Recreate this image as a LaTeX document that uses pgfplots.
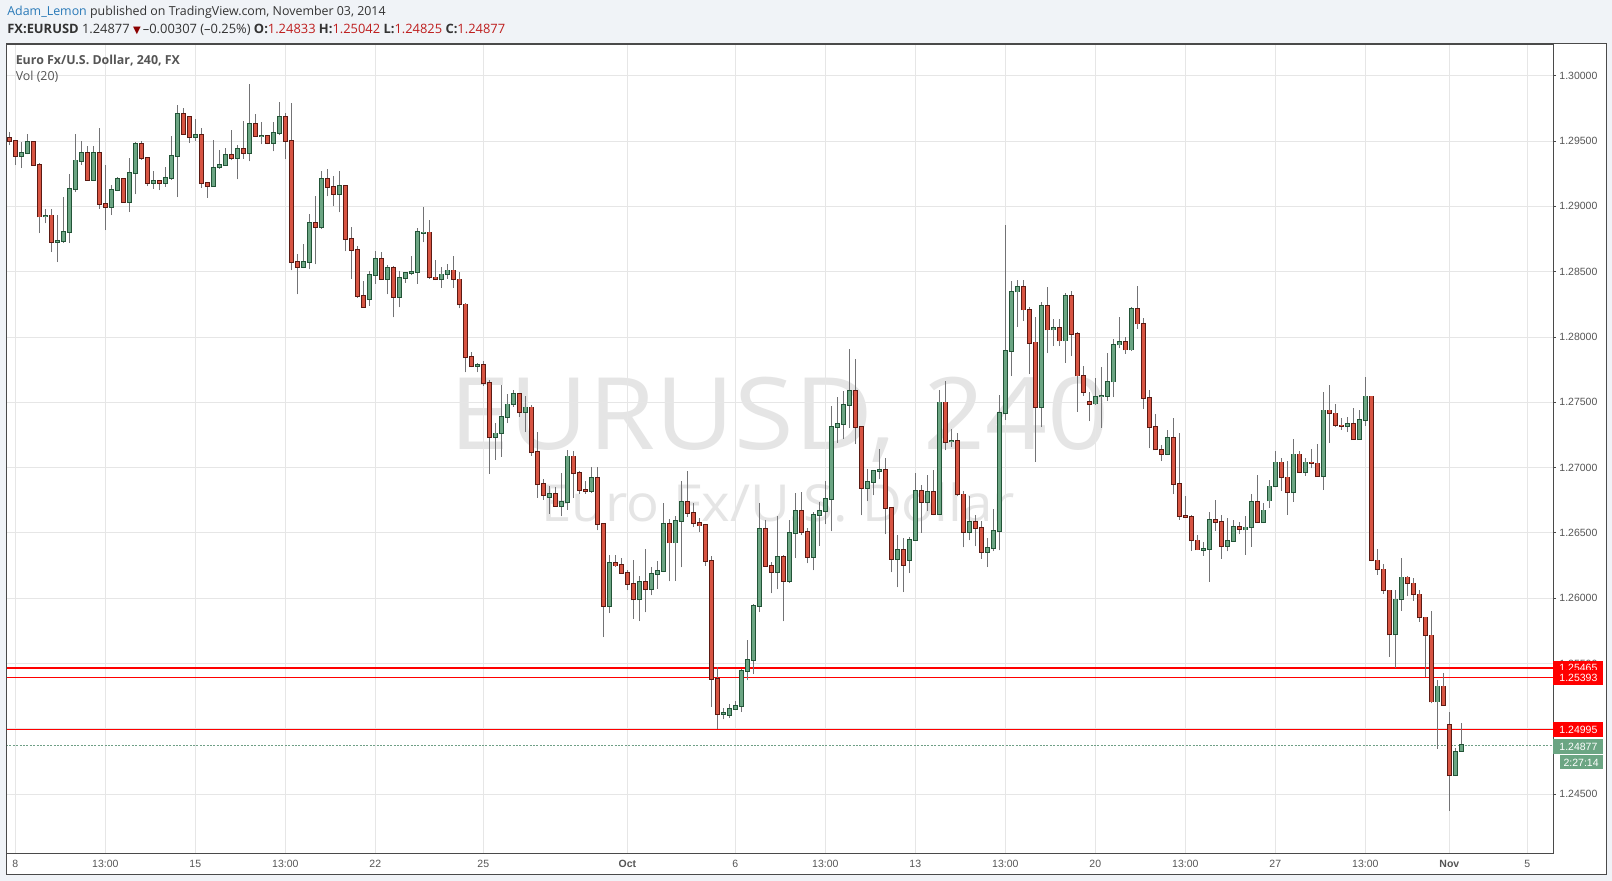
\documentclass[border=0pt]{standalone}
\usepackage{fontspec}
\setmainfont{Open Sans}
\newfontfamily\arialf{Liberation Sans}
\newfontfamily\opensf{Open Sans}
\newfontfamily\dejavuf{DejaVu Sans}
\usepackage{pgfplots}
\pgfplotsset{compat=1.18}
\usepackage{pgfplotstable}

\definecolor{upfill}{HTML}{6BA583}
\definecolor{upline}{HTML}{225437}
\definecolor{dnfill}{HTML}{D75442}
\definecolor{dnline}{HTML}{5B1A13}
\definecolor{wick}{HTML}{737375}
\definecolor{gridc}{HTML}{E6E6E6}
\definecolor{framec}{HTML}{4A4A4A}
\definecolor{lbl}{HTML}{555555}
\definecolor{hdr}{HTML}{333333}
\definecolor{bgc}{HTML}{F0F3F7}
\definecolor{wm}{HTML}{E5E5E5}
\definecolor{author}{HTML}{2A7AB8}
\definecolor{valred}{HTML}{BE1E1E}
\definecolor{tri}{HTML}{8B0000}
\definecolor{lvl}{HTML}{FF0000}
\definecolor{lastc}{HTML}{6F9F86}

% EURUSD 240-minute candles, Sep 8 - Nov 3 2014 (index, open, high, low, close)
\pgfplotstableread{
i o h l c
0 1.29524 1.29568 1.29466 1.29501
1 1.29501 1.29506 1.29320 1.29387
2 1.29387 1.29491 1.29292 1.29409
3 1.29407 1.29550 1.29397 1.29496
4 1.29496 1.29499 1.29307 1.29315
5 1.29318 1.29328 1.28795 1.28922
6 1.28922 1.28981 1.28869 1.28928
7 1.28930 1.28981 1.28650 1.28729
8 1.28729 1.28930 1.28573 1.28734
9 1.28734 1.29070 1.28721 1.28805
10 1.28803 1.29251 1.28718 1.29134
11 1.29134 1.29550 1.29109 1.29351
12 1.29348 1.29499 1.29320 1.29409
13 1.29409 1.29460 1.29198 1.29203
14 1.29203 1.29460 1.29198 1.29409
15 1.29409 1.29601 1.28981 1.29019
16 1.29019 1.29320 1.28818 1.28996
17 1.28996 1.29167 1.28933 1.29126
18 1.29126 1.29226 1.29116 1.29213
19 1.29211 1.29218 1.29027 1.29035
20 1.29035 1.29371 1.28956 1.29254
21 1.29254 1.29491 1.29091 1.29481
22 1.29481 1.29499 1.29358 1.29371
23 1.29371 1.29376 1.29154 1.29180
24 1.29180 1.29274 1.29134 1.29195
25 1.29195 1.29200 1.29124 1.29180
26 1.29180 1.29302 1.29149 1.29218
27 1.29218 1.29542 1.29205 1.29387
28 1.29387 1.29772 1.29070 1.29710
29 1.29710 1.29754 1.29550 1.29555
30 1.29685 1.29690 1.29486 1.29532
31 1.29532 1.29670 1.29499 1.29547
32 1.29547 1.29601 1.29142 1.29177
33 1.29180 1.29185 1.29065 1.29154
34 1.29154 1.29511 1.29149 1.29292
35 1.29298 1.29433 1.29288 1.29316
36 1.29316 1.29446 1.29313 1.29393
37 1.29393 1.29586 1.29352 1.29370
38 1.29370 1.29472 1.29206 1.29438
39 1.29438 1.29655 1.29364 1.29408
40 1.29408 1.29938 1.29344 1.29630
41 1.29630 1.29709 1.29530 1.29538
42 1.29535 1.29648 1.29474 1.29538
43 1.29538 1.29548 1.29474 1.29484
44 1.29484 1.29648 1.29421 1.29561
45 1.29561 1.29798 1.29543 1.29683
46 1.29683 1.29714 1.29359 1.29500
47 1.29500 1.29790 1.28510 1.28574
48 1.28574 1.28638 1.28327 1.28536
49 1.28536 1.28714 1.28528 1.28574
50 1.28574 1.28944 1.28518 1.28872
51 1.28872 1.29076 1.28556 1.28842
52 1.28842 1.29273 1.28829 1.29209
53 1.29209 1.29288 1.29076 1.29148
54 1.29148 1.29232 1.29000 1.29094
55 1.29094 1.29273 1.28954 1.29155
56 1.29155 1.29166 1.28656 1.28750
57 1.28750 1.28844 1.28446 1.28666
58 1.28666 1.28696 1.28299 1.28314
59 1.28314 1.28429 1.28225 1.28230
60 1.28291 1.28505 1.28240 1.28475
61 1.28475 1.28658 1.28408 1.28597
62 1.28597 1.28653 1.28439 1.28444
63 1.28444 1.28554 1.28327 1.28528
64 1.28528 1.28546 1.28151 1.28306
65 1.28306 1.28503 1.28227 1.28452
66 1.28452 1.28497 1.28416 1.28492
67 1.28492 1.28622 1.28472 1.28497
68 1.28497 1.28834 1.28408 1.28803
69 1.28798 1.28992 1.28724 1.28801
70 1.28801 1.28895 1.28444 1.28457
71 1.28457 1.28589 1.28436 1.28441
72 1.28441 1.28533 1.28378 1.28480
73 1.28480 1.28559 1.28444 1.28510
74 1.28510 1.28620 1.28378 1.28441
75 1.28441 1.28495 1.28220 1.28250
76 1.28250 1.28258 1.27730 1.27845
77 1.27845 1.27886 1.27768 1.27776
78 1.27778 1.27799 1.27730 1.27784
79 1.27784 1.27814 1.27628 1.27646
80 1.27646 1.27671 1.26952 1.27233
81 1.27233 1.27342 1.27062 1.27263
82 1.27263 1.27633 1.27085 1.27386
83 1.27386 1.27564 1.27340 1.27485
84 1.27485 1.27595 1.27467 1.27562
85 1.27562 1.27567 1.27391 1.27424
86 1.27424 1.27549 1.27271 1.27462
87 1.27462 1.27480 1.27092 1.27118
88 1.27118 1.27274 1.26771 1.26873
89 1.26873 1.26914 1.26756 1.26789
90 1.26774 1.26858 1.26649 1.26799
91 1.26799 1.26853 1.26700 1.26705
92 1.26705 1.26960 1.26628 1.26735
93 1.26735 1.27136 1.26679 1.27087
94 1.27087 1.27126 1.26771 1.26957
95 1.26957 1.26975 1.26802 1.26827
96 1.26827 1.26899 1.26802 1.26820
97 1.26820 1.27006 1.26809 1.26919
98 1.26919 1.27006 1.26519 1.26570
99 1.26570 1.26570 1.25703 1.25940
100 1.25940 1.26333 1.25886 1.26269
101 1.26269 1.26333 1.26238 1.26251
102 1.26254 1.26310 1.26187 1.26192
103 1.26193 1.26213 1.26060 1.26111
104 1.26111 1.26295 1.25843 1.25991
105 1.25991 1.26170 1.25825 1.26124
106 1.26124 1.26379 1.25892 1.26068
107 1.26068 1.26238 1.26022 1.26187
108 1.26187 1.26284 1.26073 1.26208
109 1.26208 1.26731 1.26200 1.26567
110 1.26567 1.26606 1.26129 1.26427
111 1.26427 1.26631 1.26134 1.26593
112 1.26593 1.26899 1.26236 1.26738
113 1.26738 1.26978 1.26621 1.26652
114 1.26652 1.26731 1.26544 1.26575
115 1.26575 1.26618 1.26511 1.26557
116 1.26560 1.26567 1.26251 1.26284
117 1.26284 1.26325 1.25167 1.25382
118 1.25382 1.25473 1.25002 1.25114
119 1.25114 1.25160 1.25073 1.25122
120 1.25106 1.25188 1.25083 1.25152
121 1.25152 1.25213 1.25142 1.25175
122 1.25175 1.25456 1.25129 1.25443
123 1.25443 1.25683 1.25371 1.25527
124 1.25527 1.25953 1.25420 1.25940
125 1.25940 1.26728 1.25894 1.26529
126 1.26529 1.26601 1.26241 1.26246
127 1.26246 1.26277 1.26037 1.26198
128 1.26198 1.26631 1.26068 1.26315
129 1.26315 1.26335 1.25823 1.26131
130 1.26131 1.26601 1.26116 1.26499
131 1.26499 1.26807 1.26307 1.26667
132 1.26667 1.26815 1.26481 1.26506
133 1.26506 1.26537 1.26267 1.26315
134 1.26315 1.26662 1.26213 1.26636
135 1.26636 1.26736 1.26399 1.26667
136 1.26667 1.26899 1.26565 1.26759
137 1.26760 1.27473 1.26512 1.27312
138 1.27312 1.27537 1.27189 1.27335
139 1.27335 1.27583 1.27218 1.27481
140 1.27481 1.27905 1.27304 1.27588
141 1.27588 1.27828 1.27179 1.27312
142 1.27312 1.27317 1.26635 1.26845
143 1.26845 1.26993 1.26742 1.26891
144 1.26891 1.26985 1.26788 1.26975
145 1.26975 1.27146 1.26911 1.26983
146 1.26983 1.27077 1.26489 1.26691
147 1.26691 1.26696 1.26198 1.26300
148 1.26300 1.26487 1.26083 1.26369
149 1.26369 1.26461 1.26047 1.26254
150 1.26293 1.26469 1.26193 1.26446
151 1.26446 1.26962 1.26441 1.26822
152 1.26822 1.26865 1.26500 1.26737
153 1.26737 1.26947 1.26666 1.26814
154 1.26814 1.26985 1.26635 1.26645
155 1.26645 1.27598 1.26640 1.27499
156 1.27499 1.27667 1.27133 1.27197
157 1.27200 1.27299 1.27156 1.27205
158 1.27205 1.27266 1.26781 1.26796
159 1.26796 1.26819 1.26390 1.26507
160 1.26507 1.26781 1.26443 1.26584
161 1.26584 1.26640 1.26397 1.26538
162 1.26538 1.26594 1.26303 1.26354
163 1.26354 1.26464 1.26239 1.26385
164 1.26385 1.26681 1.26362 1.26515
165 1.26515 1.27555 1.26367 1.27419
166 1.27419 1.28858 1.27363 1.27895
167 1.27895 1.28429 1.27700 1.28347
168 1.28347 1.28436 1.28079 1.28385
169 1.28385 1.28436 1.28122 1.28209
170 1.28209 1.28227 1.27716 1.27956
171 1.27959 1.28156 1.27045 1.27466
172 1.27466 1.28271 1.27310 1.28240
173 1.28240 1.28386 1.27877 1.28056
174 1.28056 1.28135 1.27931 1.28071
175 1.28071 1.28135 1.27931 1.27972
176 1.27972 1.28334 1.27801 1.28317
177 1.28317 1.28355 1.27854 1.28025
178 1.28025 1.28041 1.27428 1.27704
179 1.27704 1.27780 1.27548 1.27576
180 1.27504 1.27581 1.27356 1.27489
181 1.27490 1.27683 1.27479 1.27543
182 1.27543 1.27773 1.27305 1.27548
183 1.27548 1.27880 1.27509 1.27658
184 1.27658 1.27985 1.27540 1.27941
185 1.27941 1.28156 1.27913 1.27962
186 1.27962 1.28002 1.27870 1.27903
187 1.27903 1.28232 1.27893 1.28217
188 1.28217 1.28393 1.28061 1.28102
189 1.28102 1.28148 1.27448 1.27535
190 1.27535 1.27594 1.27147 1.27313
191 1.27313 1.27412 1.27134 1.27139
192 1.27137 1.27172 1.27050 1.27106
193 1.27106 1.27290 1.27101 1.27229
194 1.27229 1.27382 1.26797 1.26876
195 1.26876 1.27269 1.26600 1.26631
196 1.26631 1.26784 1.26616 1.26621
197 1.26623 1.26639 1.26363 1.26444
198 1.26444 1.26488 1.26368 1.26373
199 1.26370 1.26432 1.26324 1.26376
200 1.26376 1.26662 1.26125 1.26600
201 1.26600 1.26756 1.26516 1.26585
202 1.26585 1.26639 1.26304 1.26399
203 1.26399 1.26618 1.26360 1.26439
204 1.26439 1.26598 1.26437 1.26547
205 1.26547 1.26585 1.26490 1.26529
206 1.26525 1.26630 1.26334 1.26543
207 1.26543 1.26798 1.26395 1.26735
208 1.26735 1.26946 1.26576 1.26581
209 1.26581 1.26727 1.26576 1.26673
210 1.26747 1.26906 1.26691 1.26857
211 1.26857 1.27125 1.26849 1.27041
212 1.27041 1.27074 1.26824 1.26926
213 1.26926 1.27049 1.26640 1.26811
214 1.26811 1.27220 1.26740 1.27102
215 1.27102 1.27125 1.26959 1.26964
216 1.26964 1.27074 1.26939 1.27041
217 1.27041 1.27143 1.26995 1.27033
218 1.27033 1.27181 1.26929 1.26934
219 1.26934 1.27580 1.26832 1.27439
220 1.27439 1.27633 1.27191 1.27416
221 1.27416 1.27488 1.27309 1.27324
222 1.27324 1.27380 1.27291 1.27319
223 1.27317 1.27391 1.27271 1.27332
224 1.27332 1.27457 1.27212 1.27217
225 1.27217 1.27442 1.27212 1.27363
226 1.27363 1.27694 1.27317 1.27546
227 1.27546 1.27551 1.26283 1.26290
228 1.26290 1.26377 1.26180 1.26221
229 1.26221 1.26262 1.26035 1.26061
230 1.26061 1.26066 1.25552 1.25723
231 1.25723 1.26063 1.25463 1.25992
232 1.25992 1.26308 1.25905 1.26160
233 1.26160 1.26173 1.26020 1.26114
234 1.26114 1.26152 1.25981 1.26030
235 1.26030 1.26063 1.25821 1.25854
236 1.25854 1.25859 1.25394 1.25716
237 1.25716 1.25902 1.25195 1.25210
238 1.25210 1.25374 1.24850 1.25325
239 1.25325 1.25425 1.25175 1.25180
240 1.25029 1.25129 1.24373 1.24644
241 1.24644 1.24858 1.24638 1.24827
242 1.24833 1.25042 1.24825 1.24877
}\candles

\pgfplotsset{
  body/.style={mark=none, draw=none, forget plot,
    error bars/.cd, y dir=plus, y explicit, error mark=none},
  levelline/.style={mark=none, forget plot, line width=0.7pt, draw=lvl},
}
\tikzset{
  pricebox/.style={inner sep=0pt, minimum width=25pt, minimum height=7.5pt,
    text=white, font=\arialf\fontsize{5.25pt}{6pt}\selectfont},
}

\begin{document}
\begin{tikzpicture}
% page and chart frame
\fill[bgc] (0pt,0pt) rectangle (806pt,-440.5pt);
\fill[white] (3pt,-22pt) rectangle (803pt,-437pt);

% watermark
\node[anchor=base west, inner sep=0pt, text=wm, font=\opensf\fontsize{50pt}{50pt}\selectfont]
  at (224.5pt,-225pt) {\scalebox{1.085}[1]{EURUSD, 240}};
\node[anchor=base west, inner sep=0pt, text=wm, font=\opensf\fontsize{25.5pt}{26pt}\selectfont]
  at (270.5pt,-260.8pt) {\scalebox{1.07}[1]{Euro Fx/U.S. Dollar}};

\begin{axis}[
  at={(3pt,-426.5pt)}, anchor=south west,
  width=773.5pt, height=404.5pt, scale only axis,
  xmin=-0.555, xmax=257.28, ymin=1.240505, ymax=1.302426,
  enlargelimits=false, clip mode=individual,
  axis line style={framec, line width=0.5pt},
  grid=major, major grid style={gridc, line width=0.5pt},
  xtick={1,16,31,46,61,79,103,121,136,151,166,181,196,211,226,240,253},
  xticklabels={8,13:00,15,13:00,22,25,\textbf{Oct},6,13:00,13,13:00,20,13:00,27,13:00,\textbf{Nov},5},
  ytick={1.245,1.25,1.255,1.26,1.265,1.27,1.275,1.28,1.285,1.29,1.295,1.3},
  yticklabels={1.24500,1.25000,1.25500,1.26000,1.26500,1.27000,1.27500,1.28000,1.28500,1.29000,1.29500,1.30000},
  scaled y ticks=false,
  xtick pos=left, ytick pos=right,
  tick align=outside, major tick length=1.5pt,
  xtick style={draw=none},
  ytick style={framec, line width=0.5pt},
  ticklabel style={font=\arialf\fontsize{5.25pt}{6pt}\selectfont, text=lbl},
  yticklabel style={anchor=west, inner sep=0pt, xshift=1.5pt},
  xticklabel style={anchor=north, inner sep=0pt, yshift=-2pt},
]

% horizontal levels (behind the candles)
\addplot[levelline] coordinates {(-0.555,1.25465) (257.28,1.25465)};
\addplot[levelline] coordinates {(-0.555,1.25393) (257.28,1.25393)};
\addplot[levelline] coordinates {(-0.555,1.24995) (257.28,1.24995)};
\addplot[mark=none, forget plot, draw=lastc, line width=0.5pt, dash pattern=on 1pt off 0.7pt]
  coordinates {(-0.555,1.24877) (257.28,1.24877)};

% wicks
\addplot[body, error bar style={draw=wick, line width=0.5pt}]
  table[x=i, y=l, y error expr=\thisrow{h}-\thisrow{l}] {\candles};

% rising candles
\addplot[body, error bar style={draw=upline, line width=2.35pt}]
  table[x=i, y expr={\thisrow{c}>=\thisrow{o} ? \thisrow{o}-0.00006 : nan},
        y error expr=\thisrow{c}-\thisrow{o}+0.00012] {\candles};
\addplot[body, error bar style={draw=upfill, line width=1.45pt}]
  table[x=i, y expr={\thisrow{c}>=\thisrow{o} ? \thisrow{o} : nan},
        y error expr=\thisrow{c}-\thisrow{o}] {\candles};

% falling candles
\addplot[body, error bar style={draw=dnline, line width=2.35pt}]
  table[x=i, y expr={\thisrow{c}<\thisrow{o} ? \thisrow{c}-0.00006 : nan},
        y error expr=\thisrow{o}-\thisrow{c}+0.00012] {\candles};
\addplot[body, error bar style={draw=dnfill, line width=1.45pt}]
  table[x=i, y expr={\thisrow{c}<\thisrow{o} ? \thisrow{c} : nan},
        y error expr=\thisrow{o}-\thisrow{c}] {\candles};

\coordinate (b1) at (axis cs:257.28,1.25465);
\coordinate (b2) at (axis cs:257.28,1.25393);
\coordinate (b3) at (axis cs:257.28,1.24995);
\coordinate (b4) at (axis cs:257.28,1.24877);
\end{axis}

\draw[framec, line width=0.5pt] (3pt,-22pt) rectangle (803pt,-437pt);

% price labels on the scale
\node[pricebox, fill=lvl, anchor=west] at (b1) {1.25465};
\node[pricebox, fill=lvl, anchor=west] at (b2) {1.25393};
\node[pricebox, fill=lvl, anchor=west] at (b3) {1.24995};
\node[pricebox, fill=upfill, anchor=west, yshift=-0.75pt] at (b4) {1.24877};
\node[pricebox, fill=upfill, anchor=north east, minimum width=21.5pt, minimum height=7pt,
  xshift=25pt, yshift=-5pt] at (b4) {2:27:14};

% header
\node[anchor=base west, inner sep=0pt, text=hdr, font=\fontsize{6.2pt}{7pt}\selectfont]
  at (3.5pt,-8pt) {{\color{author}Adam\_Lemon} published on TradingView.com, November 03, 2014};
\node[anchor=base west, inner sep=0pt, text=hdr, font=\fontsize{6.45pt}{7pt}\selectfont]
  at (3.5pt,-16.6pt) {\textbf{FX:EURUSD}\ 1.24877 {\dejavuf\color{tri}\fontsize{5pt}{6pt}\selectfont ▼}\,–0.00307 (–0.25\%)\ \textbf{O:}{\color{valred}1.24833} \textbf{H:}{\color{valred}1.25042} \textbf{L:}{\color{valred}1.24825} \textbf{C:}{\color{valred}1.24877}};
\node[anchor=base west, inner sep=0pt, text=lbl, font=\bfseries\fontsize{6.2pt}{7pt}\selectfont]
  at (7.7pt,-32.5pt) {Euro Fx/U.S. Dollar, 240, FX};
\node[anchor=base west, inner sep=0pt, text=lbl, font=\fontsize{6.2pt}{7pt}\selectfont]
  at (7.7pt,-40.5pt) {Vol (20)};
\end{tikzpicture}
\end{document}
